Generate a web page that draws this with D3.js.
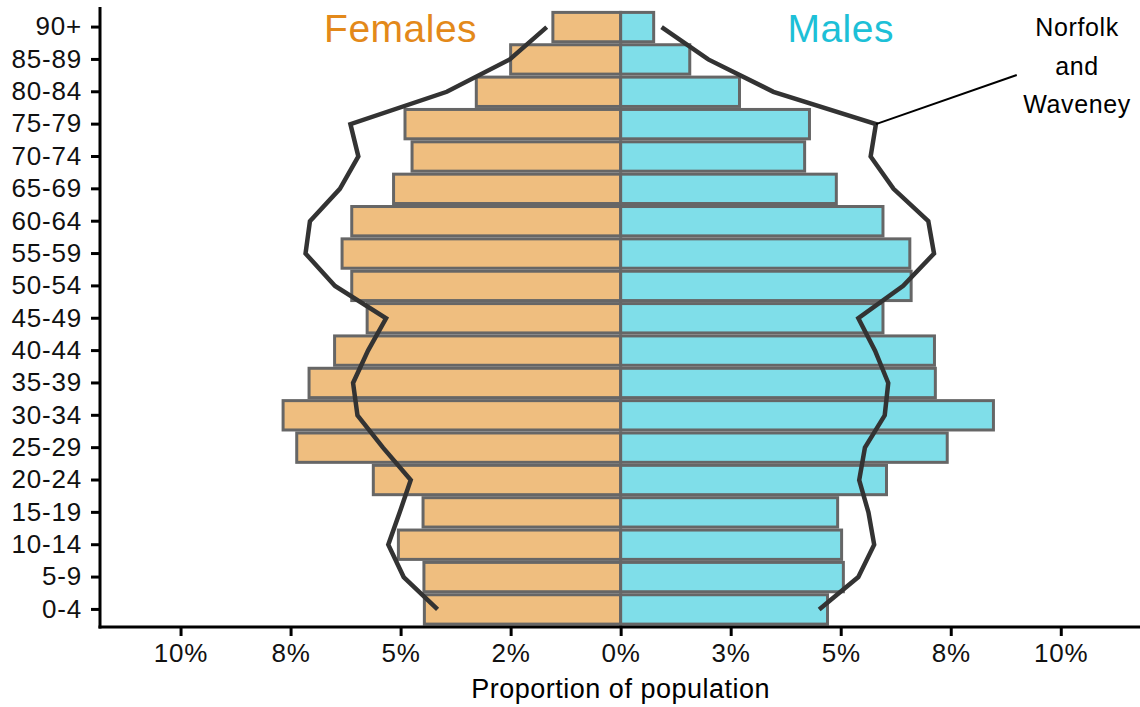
<!DOCTYPE html>
<html>
<head>
<meta charset="utf-8">
<script src="https://cdn.jsdelivr.net/npm/d3@7"></script>
<style>
  body { margin: 0; background: #fff; }
  text { font-family: "Liberation Sans", Arial, sans-serif; }
</style>
</head>
<body>
<div id="chart"></div>
<script>
var margin = {left:100, top:7, right:0, bottom:80},
    width = 1140 - margin.left - margin.right,
    height = 707 - margin.top - margin.bottom;

// age bands, bottom to top
var ageGroups = ["0-4","5-9","10-14","15-19","20-24","25-29","30-34","35-39","40-44","45-49",
                 "50-54","55-59","60-64","65-69","70-74","75-79","80-84","85-89","90+"];

// % of population (bars)
var femalePct = [4.46, 4.47, 5.05, 4.49, 5.62, 7.36, 7.67, 7.08, 6.50, 5.76,
                 6.11, 6.33, 6.11, 5.16, 4.74, 4.90, 3.28, 2.50, 1.54];
var malePct   = [4.70, 5.06, 5.02, 4.93, 6.04, 7.42, 8.47, 7.15, 7.13, 5.96,
                 6.60, 6.57, 5.96, 4.90, 4.18, 4.29, 2.70, 1.57, 0.75];

// Norfolk and Waveney comparison (outline)
var norfolkFemale = [4.16, 4.93, 5.28, 5.02, 4.77, 5.40, 5.98, 6.08, 5.74, 5.33,
                     6.49, 7.16, 7.06, 6.38, 5.96, 6.14, 3.95, 2.52, 1.68];
var norfolkMale   = [4.51, 5.40, 5.76, 5.63, 5.42, 5.55, 6.00, 6.08, 5.78, 5.40,
                     6.42, 7.12, 6.99, 6.20, 5.68, 5.80, 3.47, 1.99, 0.93];

var tickValues = [-10, -7.5, -5, -2.5, 0, 2.5, 5, 7.5, 10];
var tickLabels = ["10%","8%","5%","2%","0%","3%","5%","8%","10%"];

var femaleFill = "#EFBE7F", maleFill = "#7FDEE9",
    barStroke = "#666666", lineColor = "#333333";

////////////////////////////////////////////////////////////
/////////////////////// Scales /////////////////////////////
////////////////////////////////////////////////////////////

var x = d3.scaleLinear()
  .domain([-11.83, 11.8])
  .range([0, width]);

var y = d3.scaleBand()
  .domain(ageGroups)
  .range([625.6 - margin.top, 10.9 - margin.top])
  .paddingInner(0);

var svg = d3.select("#chart").append("svg")
  .attr("width", 1140)
  .attr("height", 707)
  .append("g")
  .attr("transform", "translate(" + margin.left + "," + margin.top + ")");

////////////////////////////////////////////////////////////
/////////////////////// Bars ///////////////////////////////
////////////////////////////////////////////////////////////

var sw = 3;
function drawBars(vals, sign, fill) {
  svg.selectAll(null)
    .data(vals)
    .enter().append("rect")
    .attr("x", function(d) { return sign < 0 ? x(-d) : x(0); })
    .attr("width", function(d) { return Math.abs(x(d) - x(0)); })
    .attr("y", function(d, i) { return y(ageGroups[i]) + sw/2; })
    .attr("height", y.bandwidth() - sw)
    .style("fill", fill)
    .style("stroke", barStroke)
    .style("stroke-width", sw);
}
drawBars(femalePct, -1, femaleFill);
drawBars(malePct, 1, maleFill);

////////////////////////////////////////////////////////////
/////////////////// Comparison lines ///////////////////////
////////////////////////////////////////////////////////////

var line = d3.line()
  .x(function(d) { return x(d.v); })
  .y(function(d) { return y(d.age) + y.bandwidth()/2; });

[[norfolkFemale, -1], [norfolkMale, 1]].forEach(function(s) {
  svg.append("path")
    .datum(s[0].map(function(v, i) { return {age: ageGroups[i], v: v * s[1]}; }))
    .attr("d", line)
    .style("fill", "none")
    .style("stroke", lineColor)
    .style("stroke-width", 4.5);
});

////////////////////////////////////////////////////////////
/////////////////////// Axes ///////////////////////////////
////////////////////////////////////////////////////////////

var xAxis = svg.append("g")
  .attr("transform", "translate(0," + (627 - margin.top) + ")")
  .call(d3.axisBottom(x).tickValues(tickValues)
    .tickFormat(function(d, i) { return tickLabels[i]; })
    .tickSize(9).tickSizeOuter(0).tickPadding(8));

var yAxis = svg.append("g")
  .call(d3.axisLeft(y).tickSize(9).tickSizeOuter(0).tickPadding(9));

[xAxis, yAxis].forEach(function(a) {
  a.select(".domain").style("stroke", "#000").style("stroke-width", 3);
  a.selectAll(".tick line").style("stroke", "#000").style("stroke-width", 3);
  a.selectAll(".tick text")
    .style("font-size", "26px")
    .style("letter-spacing", "0.8px")
    .style("fill", "#111");
});
xAxis.select(".domain").attr("d", "M-1.5,0H" + width);
yAxis.select(".domain").attr("d", "M0,0V" + (627 - margin.top + 1.5));

svg.append("text")
  .attr("x", x(0))
  .attr("y", 698 - margin.top)
  .attr("text-anchor", "middle")
  .style("font-size", "27px")
  .style("letter-spacing", "0.5px")
  .text("Proportion of population");

////////////////////////////////////////////////////////////
/////////////////////// Labels /////////////////////////////
////////////////////////////////////////////////////////////

svg.append("text")
  .attr("x", x(-5)).attr("y", 42 - margin.top)
  .attr("text-anchor", "middle")
  .style("font-size", "39px").style("letter-spacing", "0.5px")
  .style("fill", "#E3891A")
  .text("Females");

svg.append("text")
  .attr("x", x(5)).attr("y", 42 - margin.top)
  .attr("text-anchor", "middle")
  .style("font-size", "39px").style("letter-spacing", "0.5px")
  .style("fill", "#1DC0D7")
  .text("Males");

// annotation for the outline
var ann = 15; // index of 75-79
svg.append("line")
  .attr("x1", x(norfolkMale[ann])).attr("y1", y(ageGroups[ann]) + y.bandwidth()/2)
  .attr("x2", x(9.0)).attr("y2", 75 - margin.top)
  .style("stroke", "#000").style("stroke-width", 2);

svg.append("text")
  .attr("x", x(10.37)).attr("y", 36 - margin.top)
  .attr("text-anchor", "middle")
  .style("font-size", "25px").style("letter-spacing", "0.6px")
  .selectAll("tspan")
  .data(["Norfolk", "and", "Waveney"])
  .enter().append("tspan")
  .attr("x", x(10.37))
  .attr("dy", function(d, i) { return i ? 38.5 : 0; })
  .text(function(d) { return d; });
</script>
</body>
</html>
